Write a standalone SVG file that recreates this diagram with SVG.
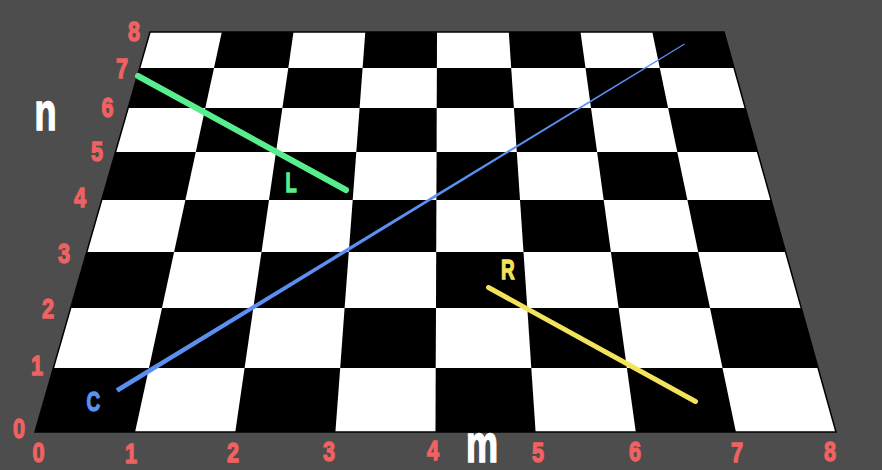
<svg xmlns="http://www.w3.org/2000/svg" width="882" height="470" viewBox="0 0 882 470">
<style>
.bk{fill:#000}
.num{font-family:"Liberation Sans",Arial,sans-serif;font-weight:bold;font-size:27px;fill:#f06262;stroke:#f06262;stroke-width:1.3;text-anchor:middle}
.ax{font-family:"Liberation Sans",Arial,sans-serif;font-weight:bold;font-size:53px;fill:#ffffff;stroke:#ffffff;stroke-width:1.6;text-anchor:middle}
.lbl{font-family:"Liberation Sans",Arial,sans-serif;font-weight:bold;font-size:27px;stroke-width:1.3;text-anchor:middle}
</style>
<rect x="0" y="0" width="882" height="470" fill="#4d4d4d"/>
<g id="board">
<polygon points="35,432 836,432 724,32 150,32" fill="#fff"/>
<polygon class="bk" points="35,432 135.1,432 149,368 53.4,368"/>
<polygon class="bk" points="235.3,432 335.4,432 340.2,368 244.6,368"/>
<polygon class="bk" points="435.5,432 535.6,432 531.3,368 435.7,368"/>
<polygon class="bk" points="635.8,432 735.9,432 722.5,368 626.9,368"/>
<polygon class="bk" points="149,368 244.6,368 253.3,308 162,308"/>
<polygon class="bk" points="340.2,368 435.7,368 436,308 344.6,308"/>
<polygon class="bk" points="531.3,368 626.9,368 618.6,308 527.3,308"/>
<polygon class="bk" points="722.5,368 818.1,368 801.3,308 710,308"/>
<polygon class="bk" points="70.7,308 162,308 174.1,252 86.8,252"/>
<polygon class="bk" points="253.3,308 344.6,308 348.8,252 261.5,252"/>
<polygon class="bk" points="436,308 527.3,308 523.5,252 436.2,252"/>
<polygon class="bk" points="618.6,308 710,308 698.2,252 610.9,252"/>
<polygon class="bk" points="174.1,252 261.5,252 269,200 185.4,200"/>
<polygon class="bk" points="348.8,252 436.2,252 436.4,200 352.7,200"/>
<polygon class="bk" points="523.5,252 610.9,252 603.7,200 520,200"/>
<polygon class="bk" points="698.2,252 785.6,252 771,200 687.4,200"/>
<polygon class="bk" points="101.7,200 185.4,200 195.8,152 115.5,152"/>
<polygon class="bk" points="269,200 352.7,200 356.3,152 276,152"/>
<polygon class="bk" points="436.4,200 520,200 516.8,152 436.6,152"/>
<polygon class="bk" points="603.7,200 687.4,200 677.3,152 597.1,152"/>
<polygon class="bk" points="195.8,152 276,152 282.4,108 205.3,108"/>
<polygon class="bk" points="356.3,152 436.6,152 436.7,108 359.6,108"/>
<polygon class="bk" points="516.8,152 597.1,152 591,108 513.9,108"/>
<polygon class="bk" points="677.3,152 757.6,152 745.3,108 668.1,108"/>
<polygon class="bk" points="128.2,108 205.3,108 214,68 139.7,68"/>
<polygon class="bk" points="282.4,108 359.6,108 362.6,68 288.3,68"/>
<polygon class="bk" points="436.7,108 513.9,108 511.2,68 436.9,68"/>
<polygon class="bk" points="591,108 668.1,108 659.8,68 585.5,68"/>
<polygon class="bk" points="214,68 288.3,68 293.5,32 221.8,32"/>
<polygon class="bk" points="362.6,68 436.9,68 437,32 365.3,32"/>
<polygon class="bk" points="511.2,68 585.5,68 580.5,32 508.8,32"/>
<polygon class="bk" points="659.8,68 734.1,68 724,32 652.3,32"/>
<polygon points="35,432 836,432 724,32 150,32" fill="none" stroke="#000" stroke-width="1.5"/>
</g>
<g id="lines">
<line id="line-L" x1="138" y1="76" x2="346" y2="190" stroke="#58ee8e" stroke-width="6" stroke-linecap="round"/>
<line id="line-R" x1="488.5" y1="287.5" x2="695.5" y2="401.5" stroke="#f2e35c" stroke-width="5" stroke-linecap="round"/>
<polygon id="line-C" points="115.7,388.4 684.2,43.6 684.8,44.4 118.3,392.6" fill="#5b8ff0"/>
</g>
<g id="labels">
<text class="lbl" transform="translate(291,192) scale(0.68,1)" fill="#58ee8e" stroke="#58ee8e">L</text>
<text class="lbl" transform="translate(507.7,279) scale(0.7,1)" fill="#f2e35c" stroke="#f2e35c">R</text>
<text class="lbl" transform="translate(93.3,411.3) scale(0.7,1)" fill="#5b8ff0" stroke="#5b8ff0">C</text>
<text class="ax" transform="translate(45.5,129.5) scale(0.68,1)">n</text>
<text class="ax" transform="translate(482,461.5) scale(0.68,1)">m</text>
</g>
<g id="n-axis">
<text class="num" transform="translate(19,437.5) scale(0.8,1)">0</text>
<text class="num" transform="translate(37,375) scale(0.8,1)">1</text>
<text class="num" transform="translate(48,318) scale(0.8,1)">2</text>
<text class="num" transform="translate(64,263) scale(0.8,1)">3</text>
<text class="num" transform="translate(80,206.5) scale(0.8,1)">4</text>
<text class="num" transform="translate(97,161) scale(0.8,1)">5</text>
<text class="num" transform="translate(107.5,116.5) scale(0.8,1)">6</text>
<text class="num" transform="translate(122,77.5) scale(0.8,1)">7</text>
<text class="num" transform="translate(134,40.5) scale(0.8,1)">8</text>
</g>
<g id="m-axis">
<text class="num" transform="translate(38.5,461.5) scale(0.8,1)">0</text>
<text class="num" transform="translate(131,462.5) scale(0.8,1)">1</text>
<text class="num" transform="translate(233,462) scale(0.8,1)">2</text>
<text class="num" transform="translate(329,461) scale(0.8,1)">3</text>
<text class="num" transform="translate(433,459.5) scale(0.8,1)">4</text>
<text class="num" transform="translate(538,462) scale(0.8,1)">5</text>
<text class="num" transform="translate(635,461) scale(0.8,1)">6</text>
<text class="num" transform="translate(737,462) scale(0.8,1)">7</text>
<text class="num" transform="translate(830,460.5) scale(0.8,1)">8</text>
</g>
</svg>
